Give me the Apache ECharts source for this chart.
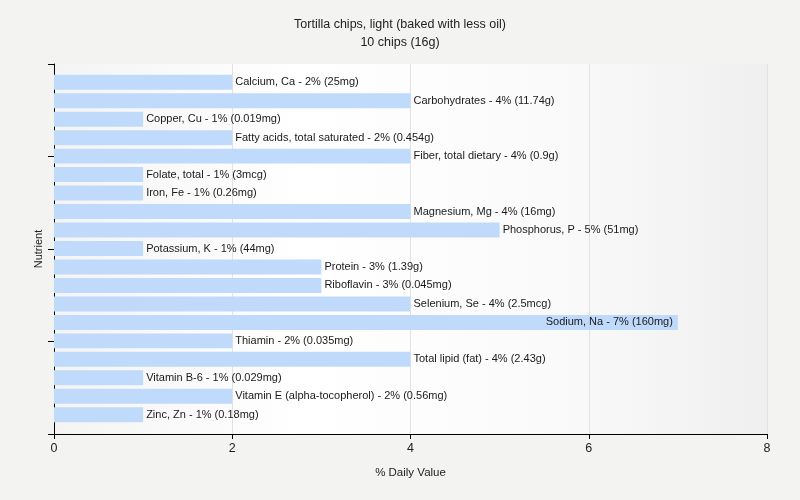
<!DOCTYPE html>
<html>
<head>
<meta charset="utf-8">
<script src="https://cdn.jsdelivr.net/npm/echarts@6/dist/echarts.min.js"></script>
<style>html,body{margin:0;padding:0;background:#f3f3f2;}#c{width:800px;height:500px;}</style>
</head>
<body>
<div id="c"></div>
<script>
const categories = ["Calcium, Ca","Carbohydrates","Copper, Cu","Fatty acids, total saturated","Fiber, total dietary","Folate, total","Iron, Fe","Magnesium, Mg","Phosphorus, P","Potassium, K","Protein","Riboflavin","Selenium, Se","Sodium, Na","Thiamin","Total lipid (fat)","Vitamin B-6","Vitamin E (alpha-tocopherol)","Zinc, Zn"];
const values = [2,4,1,2,4,1,1,4,5,1,3,3,4,7,2,4,1,2,1];
const amounts = ["25mg","11.74g","0.019mg","0.454g","0.9g","3mcg","0.26mg","16mg","51mg","44mg","1.39g","0.045mg","2.5mcg","160mg","0.035mg","2.43g","0.029mg","0.56mg","0.18mg"];
const xMin = 0, xMax = 8, xStep = 2;

const font = "Liberation Sans, Arial, sans-serif";
const chart = echarts.init(document.getElementById('c'));
const data = values.map((v,i)=>({
  value: v,
  label: v >= 7 ? {position:'insideRight', distance:5} : {position:'right', distance:3}
}));
chart.setOption({
  backgroundColor: '#f3f3f2',
  animation: false,
  title: {
    text: 'Tortilla chips, light (baked with less oil)\n10 chips (16g)',
    left: 'center', top: 11,
    textStyle: {fontFamily: font, fontSize: 12.5, fontWeight: 'normal', color: '#222', lineHeight: 18}
  },
  grid: [
    {left: 54, right: 33, top: 64, bottom: 66, show: true, borderWidth: 0,
     backgroundColor: {type:'linear', x:0, y:0, x2:1, y2:0, colorStops:[
       {offset:0, color:'#f4f4f4'},{offset:0.35, color:'#ffffff'},{offset:0.7, color:'#fafafa'},{offset:1, color:'#efefef'}]}},
    {left: 54, right: 33, top: 73, bottom: 76, show: false}
  ],
  xAxis: [{
    gridIndex: 0, type: 'value', min: xMin, max: xMax, interval: xStep,
    name: '% Daily Value', nameLocation: 'middle', nameGap: 33,
    nameTextStyle: {fontFamily: font, fontSize: 11.5, color: '#222'},
    axisLine: {show: true, lineStyle: {color: '#000', width: 1}},
    axisTick: {show: true, length: 5, lineStyle: {color: '#000'}},
    axisLabel: {fontFamily: font, fontSize: 12.5, color: '#222', margin: 8},
    splitLine: {show: true, lineStyle: {color: '#e2e2e2', width: 1}}
  },{
    gridIndex: 1, type: 'value', min: xMin, max: xMax, interval: xStep, show: false,
    splitLine: {show: false}
  }],
  yAxis: [{
    gridIndex: 0, type: 'value', min: 0, max: 4, interval: 1,
    name: 'Nutrient', nameLocation: 'middle', nameGap: 10,
    nameTextStyle: {fontFamily: font, fontSize: 11, color: '#222'},
    axisLine: {show: true, lineStyle: {color: '#000', width: 1}},
    axisTick: {show: true, length: 6, lineStyle: {color: '#000'}},
    axisLabel: {show: false},
    splitLine: {show: false}
  },{
    gridIndex: 1, type: 'category', data: categories, inverse: true,
    axisLine: {show: false}, axisTick: {show: false}, axisLabel: {show: false}, splitLine: {show: false}
  }],
  series: [{
    type: 'bar', xAxisIndex: 1, yAxisIndex: 1, data: data, barCategoryGap: '19%',
    itemStyle: {color: '#bfdafb'},
    label: {
      show: true, fontFamily: font, fontSize: 11, color: '#1a1a1a',
      formatter: p => categories[p.dataIndex] + ' - ' + values[p.dataIndex] + '% (' + amounts[p.dataIndex] + ')'
    }
  }]
});
</script>
</body>
</html>
